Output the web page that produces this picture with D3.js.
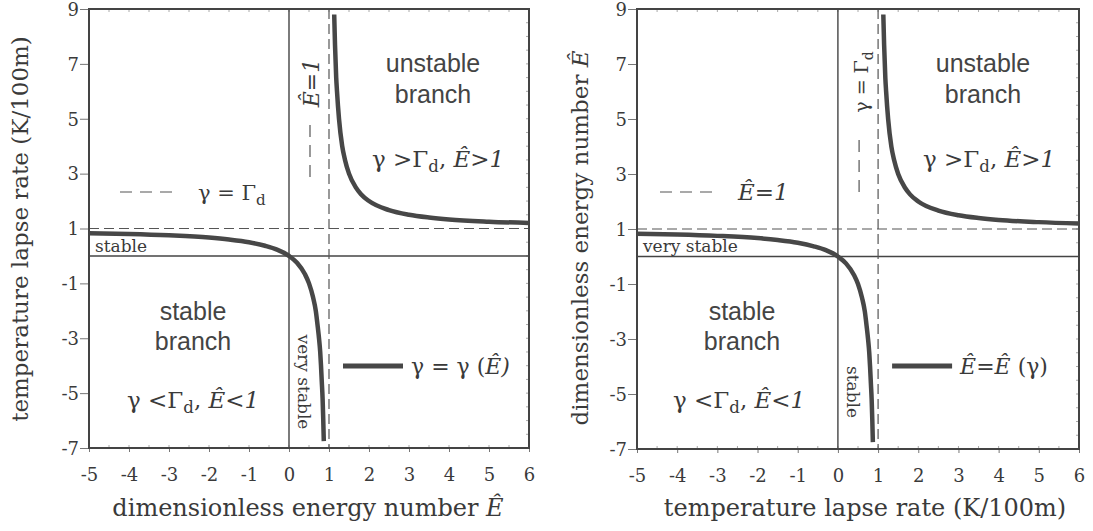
<!DOCTYPE html>
<html>
<head>
<meta charset="utf-8">
<script src="https://cdn.jsdelivr.net/npm/d3@7"></script>
<style>
    body { margin: 0; background: #fff; }
    .serif { font-family: "DejaVu Serif", "Liberation Serif", serif; fill: #3a3a3a; }
    .sans { font-family: "Liberation Sans", Arial, sans-serif; fill: #444; }
</style>
</head>
<body>
<svg id="chart" width="1093" height="531"></svg>
<script>
// axis ticks shared by both panels
var xTicks = [-5, -4, -3, -2, -1, 0, 1, 2, 3, 4, 5, 6];
var yTicks = [-7, -5, -3, -1, 1, 3, 5, 7, 9];
var xDomain = [-5, 6];
var yDomain = [-7, 9];

// curve points (same shape in both panels)
var lowerBranch = [
    [-5, 0.83], [-4, 0.8], [-3, 0.75], [-2, 0.67], [-1.5, 0.6], [-1, 0.5],
    [-0.6, 0.37], [-0.3, 0.23], [0, 0], [0.2, -0.25], [0.4, -0.67], [0.5, -1],
    [0.6, -1.5], [0.67, -2], [0.72, -2.6], [0.75, -3], [0.78, -3.5], [0.8, -4],
    [0.82, -4.6], [0.84, -5.2], [0.855, -5.9], [0.87, -6.75]
];
var upperBranch = [
    [1.13, 8.8], [1.15, 7.7], [1.18, 6.5], [1.2, 6], [1.25, 5], [1.33, 4],
    [1.4, 3.5], [1.5, 3], [1.67, 2.5], [1.8, 2.25], [2, 2], [2.5, 1.67],
    [3, 1.5], [3.5, 1.4], [4, 1.33], [5, 1.25], [6, 1.2]
];

// reference lines: solid axes through 0, dashed at 1
var solidRefs = [0];
var dashedRefs = [1];

var svg = d3.select("#chart");

/***
 * Adds text with a subscript "d" after a capital gamma
 */
function gammaD(g, x, y, before, size) {
    var t = g.append("text").attr("class", "serif").attr("x", x).attr("y", y)
        .style("font-size", size + "px");
    t.append("tspan").text(before);
    t.append("tspan").attr("dy", 5).style("font-size", (size * 0.72) + "px").text("d");
    return t;
}

function drawPanel(cfg) {
    var x = d3.scaleLinear().domain(xDomain).range([cfg.left, cfg.right]);
    var y = d3.scaleLinear().domain(yDomain).range([cfg.bottom, cfg.top]);
    var g = svg.append("g");

    // faint minor ticks inside the frame
    var minorX = d3.range(-5, 6.01, 0.5), minorY = d3.range(-7, 9.01, 0.5);
    g.selectAll(".mx").data(minorX).enter().append("line")
        .attr("x1", x).attr("x2", x).attr("y1", cfg.bottom).attr("y2", cfg.bottom - 3)
        .attr("stroke", "#aaa").attr("stroke-width", 1);
    g.selectAll(".mxt").data(minorX).enter().append("line")
        .attr("x1", x).attr("x2", x).attr("y1", cfg.top).attr("y2", cfg.top + 3)
        .attr("stroke", "#aaa").attr("stroke-width", 1);
    g.selectAll(".my").data(minorY).enter().append("line")
        .attr("y1", y).attr("y2", y).attr("x1", cfg.right).attr("x2", cfg.right - 3)
        .attr("stroke", "#aaa").attr("stroke-width", 1);

    // axes (plain hyphen for negatives, as in the original)
    var fmt = function (d) { return String(d); };
    var xAxis = d3.axisBottom(x).tickValues(xTicks).tickSize(4).tickFormat(fmt);
    var yAxis = d3.axisLeft(y).tickValues(yTicks).tickSize(9).tickFormat(fmt);
    var gx = g.append("g").attr("transform", "translate(0," + cfg.bottom + ")").call(xAxis);
    var gy = g.append("g").attr("transform", "translate(" + cfg.left + ",0)").call(yAxis);
    [gx, gy].forEach(function (a) {
        a.select(".domain").remove();
        a.selectAll("line").attr("stroke", "#777");
        a.selectAll("text").attr("class", "serif").style("font-size", "18px")
            .attr("fill", "#3a3a3a");
    });
    gx.selectAll("text").attr("y", 14).attr("dy", "1.05em");
    gy.selectAll("text").attr("x", -10).attr("dy", "0.35em");

    // reference lines
    g.selectAll(".sv").data(solidRefs).enter().append("line")
        .attr("x1", x).attr("x2", x).attr("y1", cfg.top).attr("y2", cfg.bottom)
        .attr("stroke", "#444").attr("stroke-width", 1.4);
    g.selectAll(".sh").data(solidRefs).enter().append("line")
        .attr("y1", y).attr("y2", y).attr("x1", cfg.left).attr("x2", cfg.right)
        .attr("stroke", "#444").attr("stroke-width", 1.4);
    g.selectAll(".dv").data(dashedRefs).enter().append("line")
        .attr("x1", x).attr("x2", x).attr("y1", cfg.top).attr("y2", cfg.bottom)
        .attr("stroke", "#555").attr("stroke-width", 1.2).attr("stroke-dasharray", "10,5");
    g.selectAll(".dh").data(dashedRefs).enter().append("line")
        .attr("y1", y).attr("y2", y).attr("x1", cfg.left).attr("x2", cfg.right)
        .attr("stroke", "#555").attr("stroke-width", 1.2).attr("stroke-dasharray", "10,5");

    // frame
    g.append("rect").attr("x", cfg.left).attr("y", cfg.top)
        .attr("width", cfg.right - cfg.left).attr("height", cfg.bottom - cfg.top)
        .attr("fill", "none").attr("stroke", "#444").attr("stroke-width", 2);

    // the curve
    var line = d3.line().x(function (d) { return x(d[0]); }).y(function (d) { return y(d[1]); })
        .curve(d3.curveMonotoneX);
    [lowerBranch, upperBranch].forEach(function (b) {
        g.append("path").datum(b).attr("d", line).attr("fill", "none")
            .attr("stroke", "#474747").attr("stroke-width", 4.5).attr("stroke-linecap", "butt");
    });

    var ox = cfg.left;   // text offsets relative to the panel's left edge

    // region labels
    [["unstable", 64], ["branch", 95]].forEach(function (t) {
        g.append("text").attr("class", "sans").attr("x", ox + cfg.unstableX).attr("y", t[1] + 8)
            .attr("text-anchor", "middle").style("font-size", "25px").text(t[0]);
    });
    [["stable", 312], ["branch", 342]].forEach(function (t) {
        g.append("text").attr("class", "sans").attr("x", ox + cfg.stableX).attr("y", t[1] + 8)
            .attr("text-anchor", "middle").style("font-size", "25px").text(t[0]);
    });

    // γ>Γd, Ê>1  and  γ<Γd, Ê<1
    [[cfg.upCondX, 167, "γ >Γ", "Ê>1"], [cfg.loCondX, 408, "γ <Γ", "Ê<1"]].forEach(function (c) {
        var t = gammaD(g, ox + c[0], c[1], c[2], 23);
        t.append("tspan").attr("dy", -5).text(", ");
        t.append("tspan").style("font-style", "italic").text(c[3]);
    });

    // small region label between the lines 0 and 1
    g.append("text").attr("class", "serif").attr("x", cfg.left + 6).attr("y", 252)
        .style("font-size", "17px").text(cfg.thinLabel);

    // rotated label along the steep part
    g.append("text").attr("class", "serif")
        .attr("transform", "translate(" + (x(0) + 9) + "," + cfg.steepY + ") rotate(90)")
        .attr("text-anchor", "middle").style("font-size", "17px").text(cfg.steepLabel);

    // legend: dashed
    g.append("line").attr("x1", ox + cfg.dashLegX).attr("x2", ox + cfg.dashLegX + 58)
        .attr("y1", 192).attr("y2", 192).attr("stroke", "#555").attr("stroke-width", 1.2)
        .attr("stroke-dasharray", "12,8");
    cfg.dashLegText(g, ox + cfg.dashLegX + 78, 200);

    // legend: vertical dashed with rotated text
    g.append("line").attr("x1", x(1) - 19).attr("x2", x(1) - 19)
        .attr("y1", cfg.vDashTop).attr("y2", cfg.vDashTop + 57)
        .attr("stroke", "#555").attr("stroke-width", 1.2).attr("stroke-dasharray", "12,8");
    cfg.vDashText(g, x(1) - 10, cfg.vTextY);

    // legend: solid
    g.append("line").attr("x1", x(1) + 14).attr("x2", x(1) + 74)
        .attr("y1", 366).attr("y2", 366).attr("stroke", "#474747").attr("stroke-width", 5);
    cfg.solidLegText(g, x(1) + 82, 374);

    // axis titles
    var xt = g.append("text").attr("class", "serif").attr("x", cfg.xTitleX).attr("y", 516)
        .attr("text-anchor", "middle").style("font-size", cfg.xTitleSize + "px");
    cfg.xTitle(xt);
    var yt = g.append("text").attr("class", "serif")
        .attr("transform", "translate(" + cfg.yTitleX + "," + cfg.yTitleY + ") rotate(-90)")
        .attr("text-anchor", "middle").style("font-size", cfg.yTitleSize + "px");
    cfg.yTitle(yt);
}

function energyTitle(t) {
    t.append("tspan").text("dimensionless energy number ");
    t.append("tspan").style("font-style", "italic").text("Ê");
}
function lapseTitle(t) {
    t.text("temperature lapse rate (K/100m)");
}

drawPanel({
    left: 89, right: 529, top: 9, bottom: 448,
    unstableX: 344, stableX: 104, upCondX: 283, loCondX: 38,
    thinLabel: "stable", steepLabel: "very stable", steepY: 382,
    dashLegX: 31,
    dashLegText: function (g, x, y) { gammaD(g, x, y, "γ = Γ", 21); },
    vDashTop: 125, vTextY: 83,
    vDashText: function (g, x, y) {
        g.append("text").attr("class", "serif")
            .attr("transform", "translate(" + x + "," + y + ") rotate(-90)")
            .attr("text-anchor", "middle").style("font-size", "22px").style("font-style", "italic")
            .text("Ê=1");
    },
    solidLegText: function (g, x, y) {
        var t = g.append("text").attr("class", "serif").attr("x", x).attr("y", y)
            .style("font-size", "22px");
        t.append("tspan").text("γ = γ (");
        t.append("tspan").style("font-style", "italic").text("Ê");
        t.append("tspan").style("font-style", "italic").text(")");
    },
    xTitleX: 308, xTitleSize: 24, xTitle: energyTitle,
    yTitleX: 28, yTitleY: 229, yTitleSize: 23, yTitle: lapseTitle
});

drawPanel({
    left: 637, right: 1079, top: 9, bottom: 449,
    unstableX: 346, stableX: 105, upCondX: 286, loCondX: 36,
    thinLabel: "very stable", steepLabel: "stable", steepY: 392,
    dashLegX: 23,
    dashLegText: function (g, x, y) {
        g.append("text").attr("class", "serif").attr("x", x).attr("y", y)
            .style("font-size", "23px").style("font-style", "italic").text("Ê=1");
    },
    vDashTop: 140, vTextY: 82,
    vDashText: function (g, x, y) {
        var t = g.append("text").attr("class", "serif")
            .attr("transform", "translate(" + x + "," + y + ") rotate(-90)")
            .attr("text-anchor", "middle").style("font-size", "19px");
        t.append("tspan").text("γ = Γ");
        t.append("tspan").attr("dy", 5).style("font-size", "14px").text("d");
    },
    solidLegText: function (g, x, y) {
        var t = g.append("text").attr("class", "serif").attr("x", x).attr("y", y)
            .style("font-size", "22px");
        t.append("tspan").style("font-style", "italic").text("Ê=Ê");
        t.append("tspan").text(" (γ)");
    },
    xTitleX: 865, xTitleSize: 24, xTitle: lapseTitle,
    yTitleX: 588, yTitleY: 238, yTitleSize: 23, yTitle: energyTitle
});
</script>
</body>
</html>
